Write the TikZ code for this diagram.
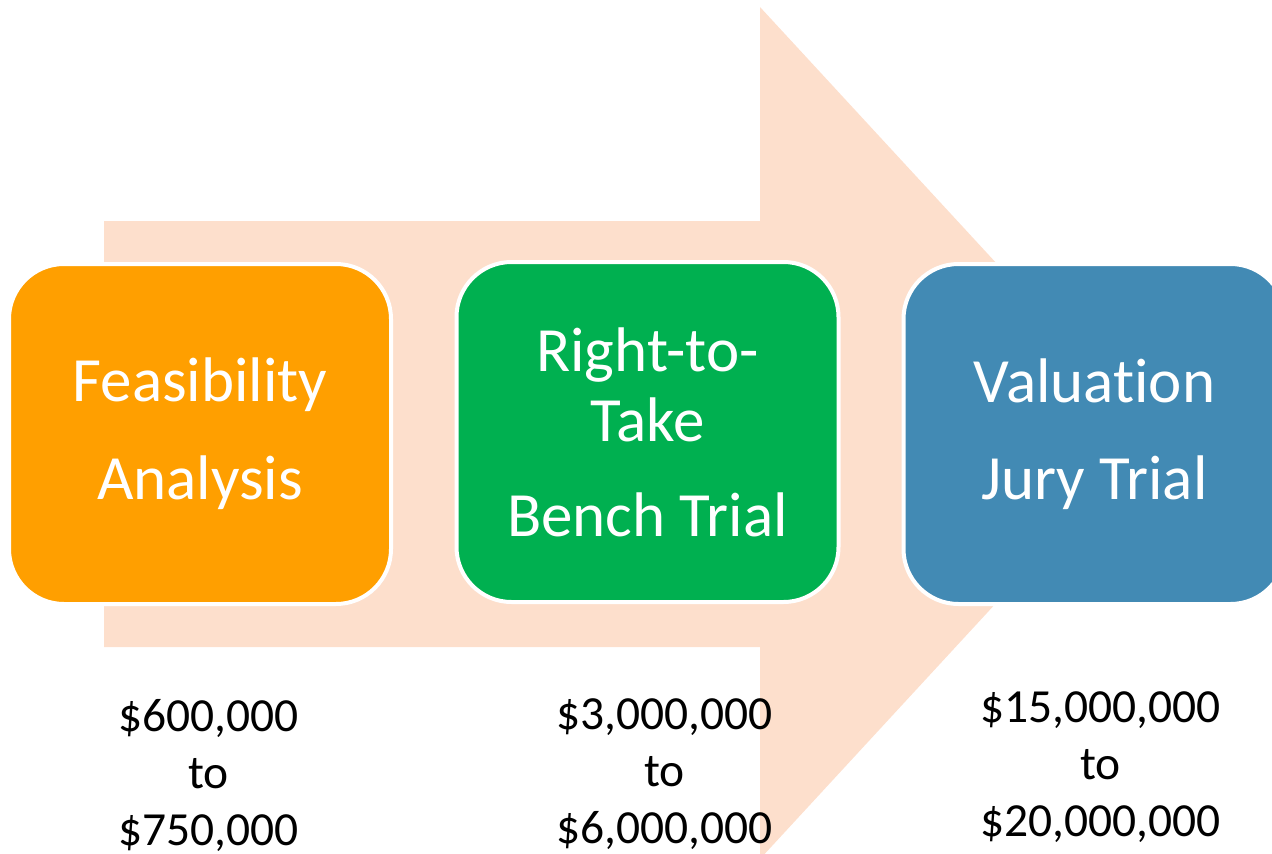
\documentclass[tikz,border=0pt]{standalone}
\usepackage{fontspec}
\setmainfont{Carlito}[Ligatures=NoCommon]
\usetikzlibrary{positioning}

\definecolor{peach}{HTML}{FDDFCC}
\definecolor{stageorange}{HTML}{FF9F00}
\definecolor{stagegreen}{HTML}{00B050}
\definecolor{stageblue}{HTML}{428AB4}

\begin{document}
\begin{tikzpicture}[x=1pt, y=-1pt,
    stage/.style={draw=white, line width=4pt, rounded corners=55pt,
                  minimum width=382pt, minimum height=340pt, inner sep=0pt,
                  align=center, text=white, font=\fontsize{63}{70}\selectfont},
    amount/.style={align=center, font=\fontsize{47.5}{57}\selectfont}]
        \useasboundingbox (0,0) rectangle (1272,854);
        \clip (0,0) rectangle (1272,854);

        % big arrow behind the stages
        \fill[peach] (104,221) -- (760,221) -- (760,7) -- (1153,433)
                  -- (760,859) -- (760,647) -- (104,647) -- cycle;

        \node[stage, fill=stageorange] (feas) at (200,434)    {Feasibility\\[28pt]Analysis};
        \node[stage, fill=stagegreen]  (take) at (647.5,432)  {Right-to-\\Take\\[25pt]Bench Trial};
        \node[stage, fill=stageblue]   (jury) at (1094.5,434) {Valuation\\[27pt]Jury Trial};

        \node[amount] (feascost) at (208.5,775)  {\$600,000\\to\\\$750,000};
        \node[amount] (takecost) at (664.5,774)  {\$3,000,000\\to\\\$6,000,000};
        \node[amount] (jurycost) at (1100.5,767) {\$15,000,000\\to\\\$20,000,000};

      \end{tikzpicture}
\end{document}
